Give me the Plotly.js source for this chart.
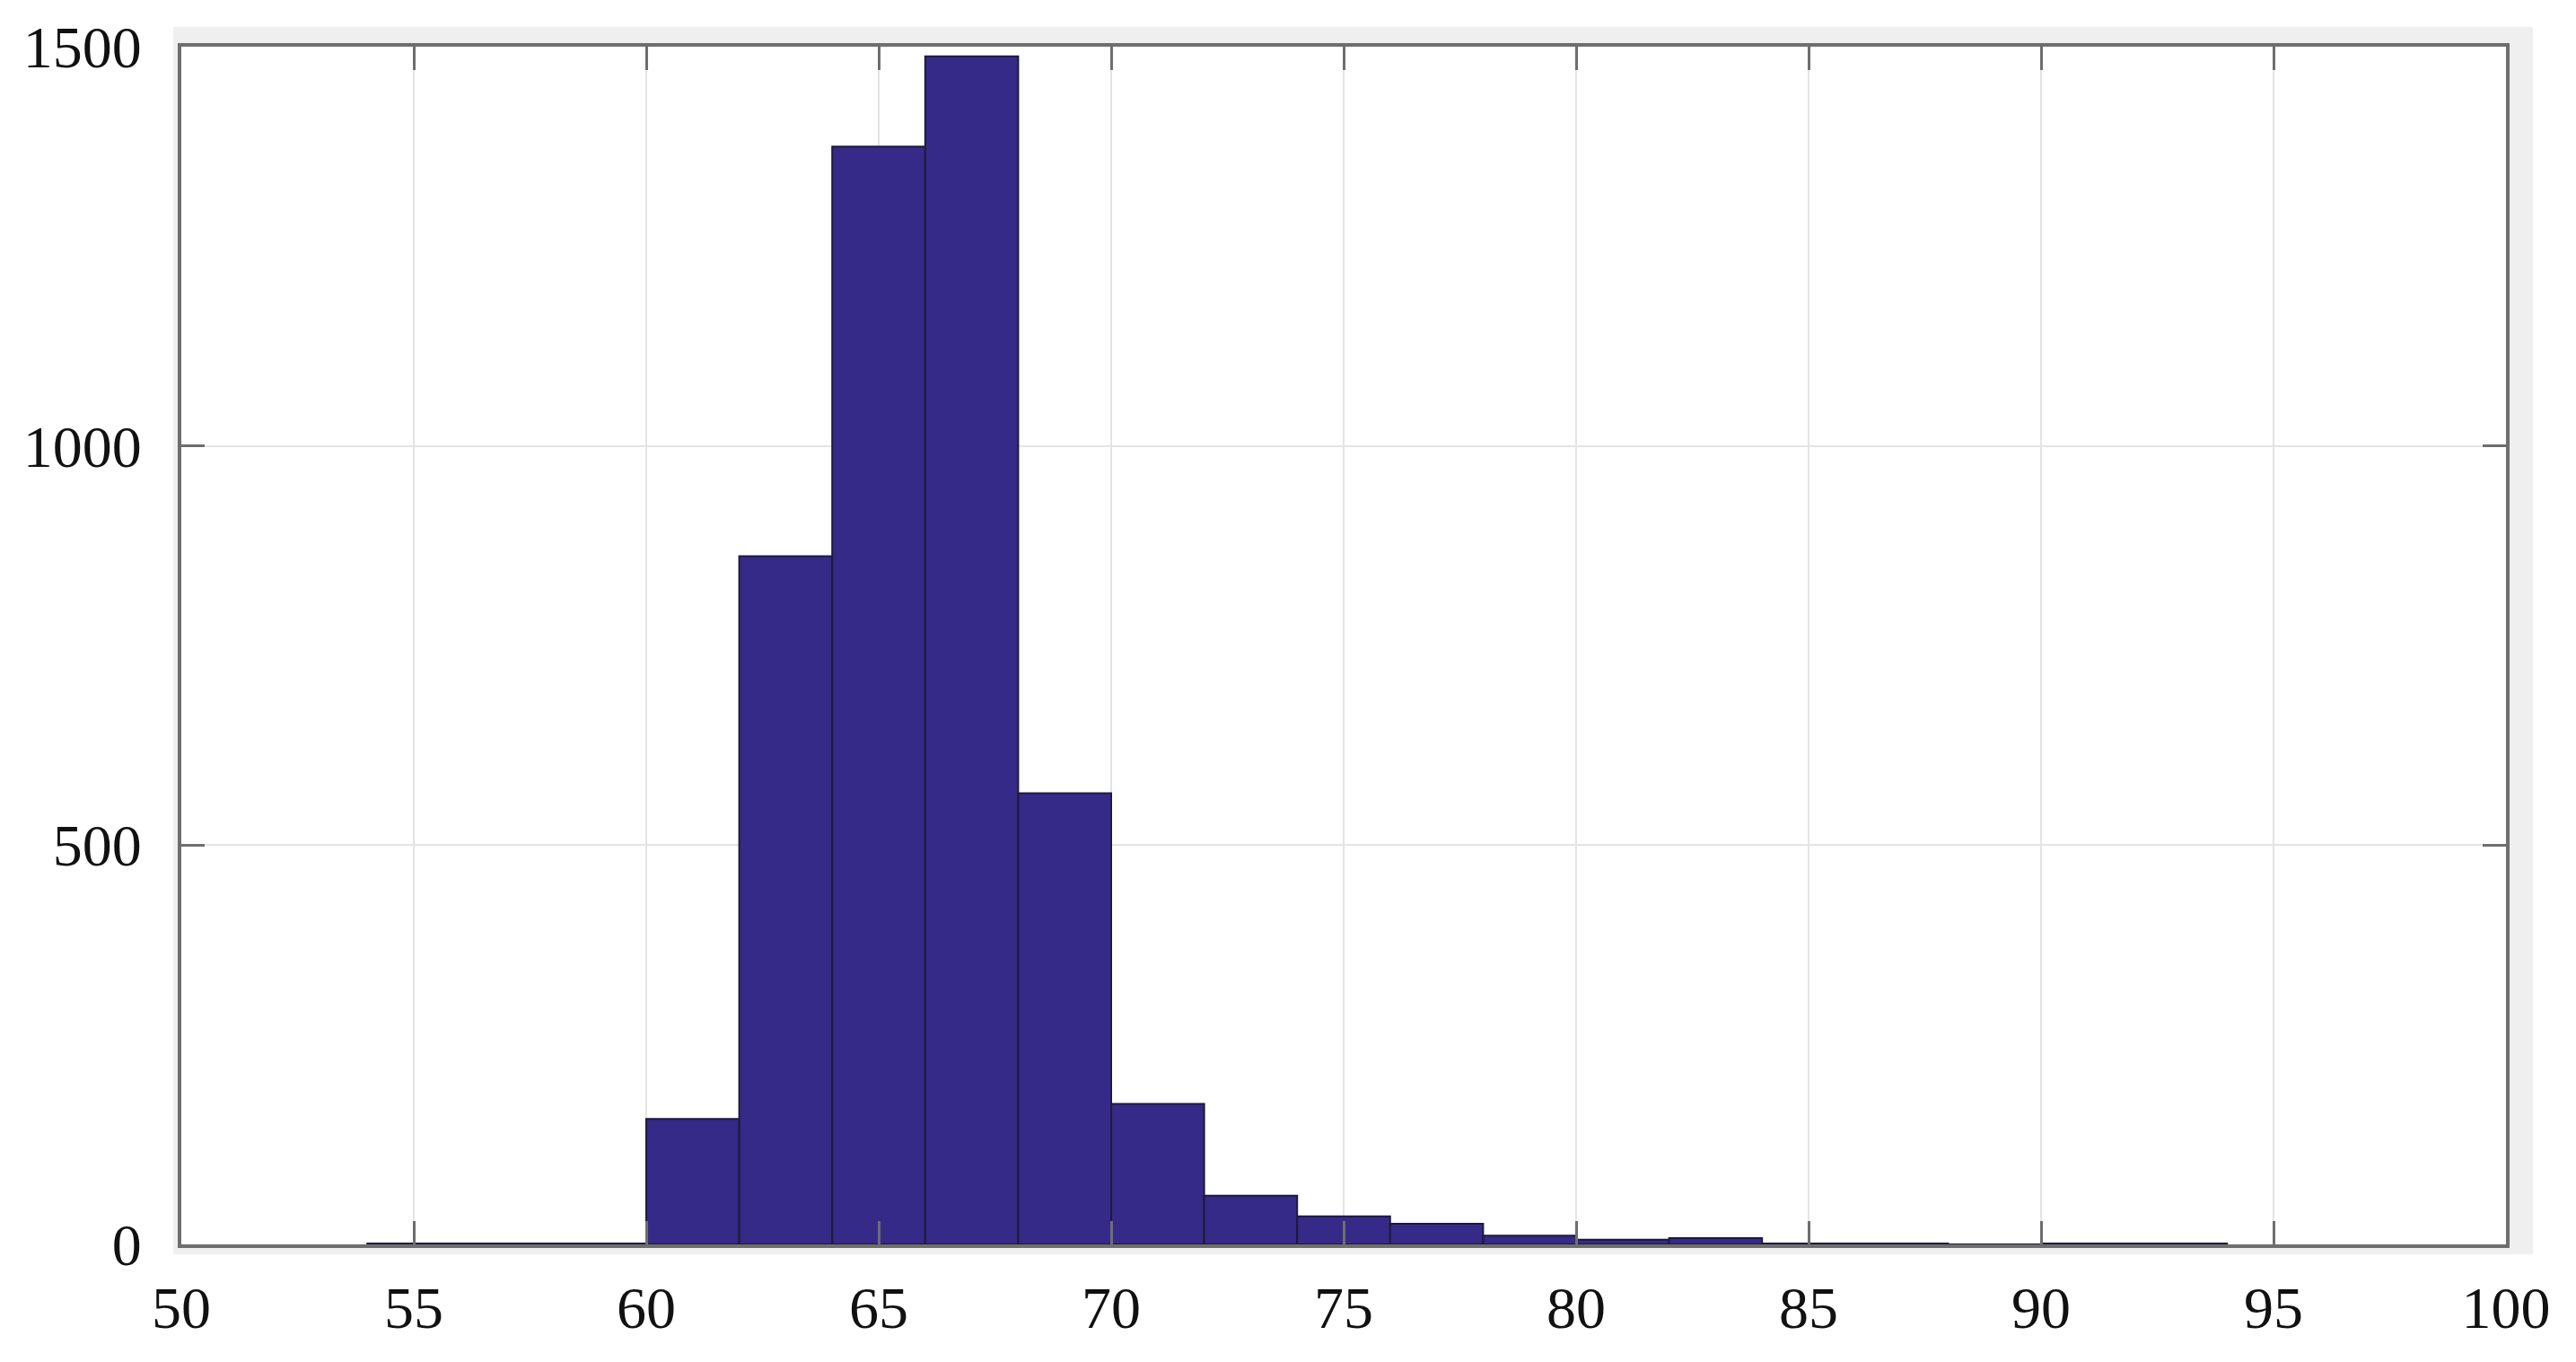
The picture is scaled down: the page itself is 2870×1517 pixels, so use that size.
<!DOCTYPE html>
<html>
<head>
<meta charset="utf-8">
<script src="https://cdn.plot.ly/plotly-3.0.1.min.js"></script>
<style>
  html, body { margin: 0; padding: 0; background: #fff; }
  #hist { width: 2870px; height: 1517px; }
</style>
</head>
<body>
<div id="hist"></div>
<script>
// histogram bins (left edges, bin width 2) and their counts
const binStarts = [54, 56, 58, 60, 62, 64, 66, 68, 70, 72, 74, 76, 78, 80, 82, 84, 86, 88, 90, 92];
const counts    = [ 1,  1,  1, 157, 862, 1375, 1488, 565, 176, 61, 35, 26, 11,  6,  8,  1,  1,  0,  1,  1];
const binWidth = 2;

const xTicks = [50, 55, 60, 65, 70, 75, 80, 85, 90, 95, 100];
const yTicks = [0, 500, 1000, 1500];

const barColor = '#352a87';
const frameColor = '#6e6e6e';
const labelFont = {family: 'Liberation Serif, Times New Roman, serif', size: 66, color: '#111'};

let centers = binStarts.map(b => b + binWidth / 2);

let data = [{
    type: 'bar',
    x: centers,
    y: counts,
    width: binWidth,
    marker: {color: barColor, line: {color: '#1e1b3a', width: 2}},
    hoverinfo: 'x+y'
}];

let layout = {
    width: 2870,
    height: 1517,
    margin: {l: 202, r: 78, t: 52, b: 131},
    paper_bgcolor: '#ffffff',
    plot_bgcolor: '#ffffff',
    showlegend: false,
    bargap: 0,
    xaxis: {
        range: [50, 100],
        tickvals: xTicks,
        ticktext: xTicks.map(String),
        ticks: 'inside',
        ticklen: 26,
        tickwidth: 3,
        tickcolor: frameColor,
        showline: true,
        linecolor: frameColor,
        linewidth: 4,
        mirror: 'ticks',
        showgrid: true,
        gridcolor: '#e4e4e4',
        gridwidth: 2,
        zeroline: false,
        tickfont: labelFont,
        ticklabelstandoff: 10
    },
    yaxis: {
        range: [0, 1500],
        tickvals: yTicks,
        ticktext: yTicks.map(String),
        ticks: 'inside',
        ticklen: 26,
        tickwidth: 3,
        tickcolor: frameColor,
        showline: true,
        linecolor: frameColor,
        linewidth: 4,
        mirror: 'ticks',
        showgrid: true,
        gridcolor: '#e4e4e4',
        gridwidth: 2,
        zeroline: false,
        tickfont: labelFont,
        ticklabelstandoff: 27
    },
    shapes: [
        // light grey shadow frame round the axes, then the white plot face on top of it
        {type: 'rect', xref: 'paper', yref: 'paper', x0: -0.0035, x1: 1.0116, y0: -0.0082, y1: 1.0165,
         fillcolor: '#efefef', line: {width: 0}, layer: 'below'},
        {type: 'rect', xref: 'paper', yref: 'paper', x0: 0, x1: 1, y0: 0, y1: 1,
         fillcolor: '#ffffff', line: {width: 0}, layer: 'below'}
    ]
};

Plotly.newPlot('hist', data, layout, {displayModeBar: false, staticPlot: true});
</script>
</body>
</html>
